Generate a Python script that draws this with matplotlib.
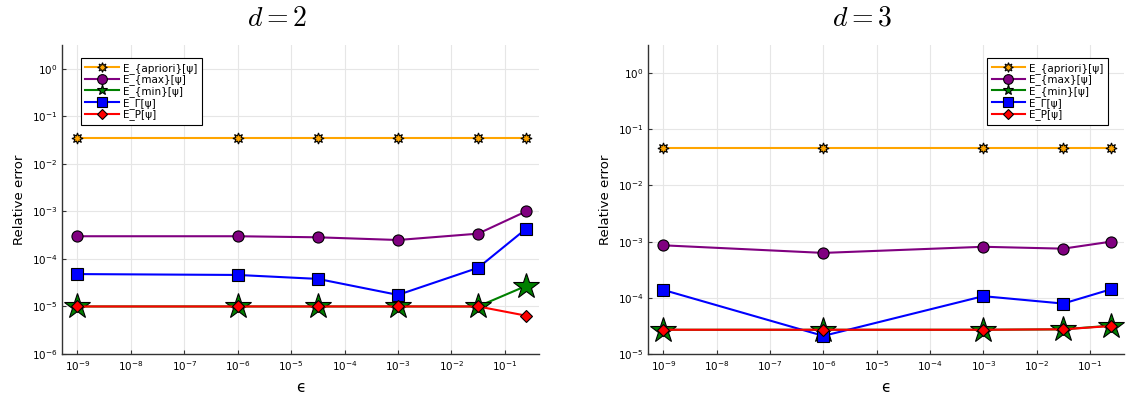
import matplotlib
matplotlib.use("Agg")
import matplotlib.pyplot as plt
from matplotlib.lines import Line2D
import numpy as np

plt.rcParams['mathtext.fontset'] = 'cm'
plt.rcParams['font.family'] = ['DejaVu Sans']

# ---- data ----
eps2 = [1e-9, 1e-6, 3.16e-5, 1e-3, 3.16e-2, 0.25]
apriori2 = [0.035, 0.035, 0.035, 0.035, 0.035, 0.035]
emax2 = [3.0e-4, 3.0e-4, 2.85e-4, 2.5e-4, 3.4e-4, 1.0e-3]
emin2 = [1e-5, 1e-5, 1e-5, 1e-5, 1e-5, 2.7e-5]
egam2 = [4.8e-5, 4.6e-5, 3.8e-5, 1.75e-5, 6.5e-5, 4.3e-4]
ep2 = [1e-5, 1e-5, 1e-5, 1e-5, 1e-5, 6.4e-6]

eps3 = [1e-9, 1e-6, 1e-3, 3.16e-2, 0.25]
apriori3 = [0.046, 0.046, 0.046, 0.046, 0.046]
emax3 = [8.6e-4, 6.3e-4, 8.1e-4, 7.5e-4, 1.0e-3]
emin3 = [2.7e-5, 2.7e-5, 2.7e-5, 2.75e-5, 3.2e-5]
egam3 = [1.38e-4, 2.1e-5, 1.07e-4, 7.9e-5, 1.42e-4]
ep3 = [2.7e-5, 2.7e-5, 2.7e-5, 2.75e-5, 3.15e-5]

labels = ["E_{apriori}[ψ]", "E_{max}[ψ]", "E_{min}[ψ]", "E_Γ[ψ]", "E_P[ψ]"]
colors = ["#FFA500", "#800080", "#008000", "#0000FF", "#FF0000"]
titles = ["$d=2$", "$d=3$"]
xticks = [10.0**k for k in range(-9, 0)]

star8 = (8, 1, 0)
markers = [star8, "o", "*", "s", "D"]
msizes = [8, 8, 19, 8, 6.5]
lmsizes = [7, 7, 8, 7, 5.5]

fig = plt.figure(figsize=(11.26, 4.01), dpi=100)
ax1 = fig.add_axes([62/1126, 1-354/401, (539-62)/1126, (354-45)/401])
ax2 = fig.add_axes([648/1126, 1-354/401, (1124-648)/1126, (354-45)/401])

panels = [
    (ax1, eps2, [apriori2, emax2, emin2, egam2, ep2], (1e-6, 10**0.5), titles[0], 'upper left', 277),
    (ax2, eps3, [apriori3, emax3, emin3, egam3, ep3], (1e-5, 10**0.5), titles[1], 'upper right', 862),
]

for ax, x, series, ylim, title, loc, tx in panels:
    for ys, lab, c, m, ms in zip(series, labels, colors, markers, msizes):
        ax.plot(x, ys, color=c, lw=1.5, marker=m, markersize=ms,
                markerfacecolor=c, markeredgecolor='black', markeredgewidth=0.8, label=lab)
    ax.set_xscale('log')
    ax.set_yscale('log')
    ax.set_xlim(10**-9.29, 10**-0.36)
    ax.set_ylim(*ylim)
    ax.set_xticks(xticks)
    ax.xaxis.set_minor_locator(matplotlib.ticker.NullLocator())
    ax.yaxis.set_minor_locator(matplotlib.ticker.NullLocator())
    ax.grid(True, color='#e6e6e6', lw=0.8)
    ax.set_axisbelow(True)
    for s in ['top', 'right']:
        ax.spines[s].set_visible(False)
    for s in ['left', 'bottom']:
        ax.spines[s].set_color('#333333')
        ax.spines[s].set_linewidth(1.0)
    ax.tick_params(direction='in', length=3, labelsize=7.5, color='#333333')
    ax.set_xlabel("ϵ", fontsize=11, labelpad=5)
    ax.set_ylabel("Relative error", fontsize=9.5)
    fig.text(tx/1126, 1-18/401, title, fontsize=20, ha='center', va='center')
    handles = [Line2D([0], [0], color=c, lw=1.5, marker=m, markersize=lms,
                      markerfacecolor=c, markeredgecolor='black', markeredgewidth=0.8)
               for c, m, lms in zip(colors, markers, lmsizes)]
    leg = ax.legend(handles, labels, loc=loc, fontsize=7.5, frameon=True, fancybox=False,
                    edgecolor='black', framealpha=1, handlelength=3.2, labelspacing=0.08,
                    borderpad=0.45, handletextpad=0.4,
                    bbox_to_anchor=(0.028, 0.975) if loc == 'upper left' else (0.978, 0.975))
    leg.get_frame().set_linewidth(0.8)

fig.savefig("out.png", dpi=100)
